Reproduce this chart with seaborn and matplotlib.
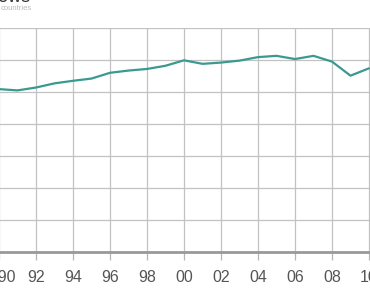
import matplotlib
matplotlib.use("Agg")
import matplotlib.pyplot as plt
import seaborn as sns
import pandas as pd

years = list(range(1990, 2011))
values = [50.9, 50.5, 51.4, 52.7, 53.5, 54.2, 56.0, 56.7, 57.2, 58.2, 59.9,
          58.8, 59.2, 59.8, 60.9, 61.3, 60.3, 61.3, 59.5, 55.1, 57.4]
xticks = list(range(1990, 2011, 2))
xticklabels = ["1990"] + [f"{y % 100:02d}" for y in xticks[1:]]
yticks = list(range(0, 71, 10))

df = pd.DataFrame({"year": years, "value": values})

sns.set_style("white")
plt.rcParams['font.family'] = ['Liberation Sans', 'DejaVu Sans']

W, H = 370, 297
fig = plt.figure(figsize=(W / 100, H / 100), dpi=100)
px = 18.5  # pixels per year
left_px, right_px = -20, 390
ax = fig.add_axes([left_px / W, 45 / H, (right_px - left_px) / W, 224 / H])

sns.lineplot(data=df, x="year", y="value", ax=ax, color="#3a9a8f", linewidth=1.6)

x0 = 1990 + (left_px + 1) / px
x1 = 1990 + (right_px + 1) / px
ax.set_xlim(x0, x1)
ax.set_ylim(0, 70)
ax.set_xticks(xticks)
ax.set_xticklabels(xticklabels)
ax.set_yticks(yticks)
ax.set_yticklabels([])
ax.grid(True, color="#c2c2c2", linewidth=0.9)
ax.set_axisbelow(True)
for s in ["top", "right", "left"]:
    ax.spines[s].set_visible(False)
ax.spines["bottom"].set_color("#999999")
ax.spines["bottom"].set_linewidth(2)
ax.tick_params(axis="x", length=6, width=0.9, color="#b5b5b5", pad=7,
               labelsize=11.5, labelcolor="#555555", bottom=True)
ax.tick_params(axis="y", length=0)
ax.set_xlabel("")
ax.set_ylabel("")

fig.text(31 / W, 1 - 2.5 / H, "flows", ha="right", va="baseline",
         fontsize=13, color="#333333")
fig.text(32 / W, 1 - 9.5 / H, "countries", ha="right", va="baseline",
         fontsize=5.5, color="#bbbbbb")

fig.savefig("out.png", dpi=100)
